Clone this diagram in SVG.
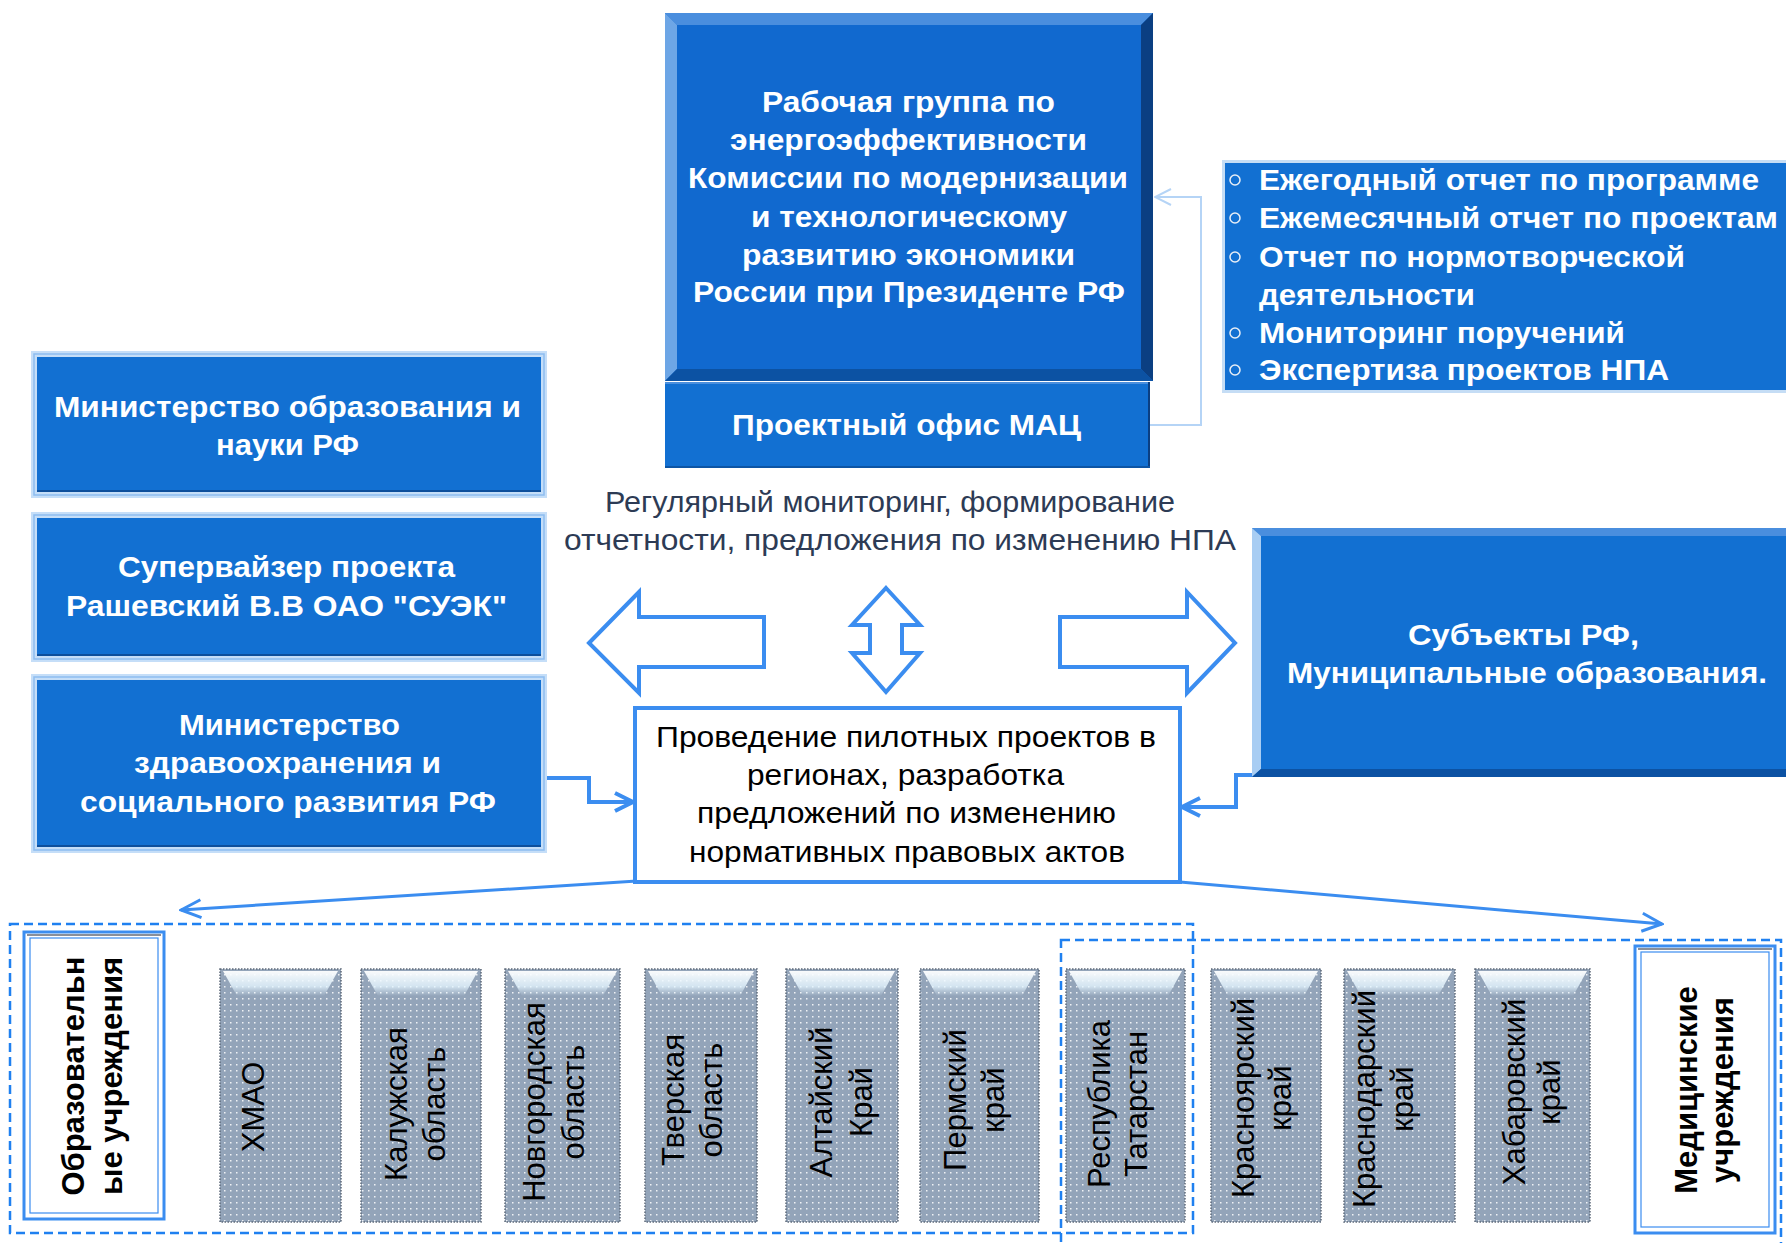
<svg xmlns="http://www.w3.org/2000/svg" width="1786" height="1243" viewBox="0 0 1786 1243">
<style>
text{font-family:"Liberation Sans",Arial,sans-serif}
.wb{font-weight:bold;font-size:29px;fill:#fff}
.wl{font-weight:bold;font-size:30px;fill:#fff}
.bk{font-size:30px;fill:#000}
.lbl{font-size:30px;fill:#2d3b55}
.rot{font-size:31px;fill:#000;text-anchor:middle}
.rotb{font-weight:bold}
.face{fill:#1270d2}
.bigarrow{fill:#fff;stroke:#3b8df0;stroke-width:4}
.conn{fill:none;stroke:#3b8df0;stroke-width:4}
.slant{fill:none;stroke:#3b8df0;stroke-width:3}
.light{fill:none;stroke:#b5d4f6;stroke-width:2}
.dash{fill:none;stroke:#1f80f0;stroke-width:2.5;stroke-dasharray:9 5}
.pill{fill:url(#dots);stroke:#5f6a7a;stroke-width:1.5;stroke-dasharray:1.5 1.5}
.hl{fill:url(#gl)}
.frame{fill:#fff;stroke:#3b8df0;stroke-width:3}
.frame2{fill:none;stroke:#3b8df0;stroke-width:1.2}
</style>
<defs>
<marker id="chev" viewBox="0 0 22 22" refX="20" refY="11" markerWidth="22" markerHeight="22" markerUnits="userSpaceOnUse" orient="auto"><path d="M2,2 L20,11 L2,20" fill="none" stroke="#3b8df0" stroke-width="4"/></marker>
<marker id="chev3" viewBox="0 0 24 22" refX="22" refY="11" markerWidth="24" markerHeight="22" markerUnits="userSpaceOnUse" orient="auto"><path d="M2,2 L22,11 L2,20" fill="none" stroke="#3b8df0" stroke-width="3"/></marker>
<marker id="chevL" viewBox="0 0 18 18" refX="17" refY="9" markerWidth="18" markerHeight="18" markerUnits="userSpaceOnUse" orient="auto"><path d="M1,1 L17,9 L1,17" fill="none" stroke="#b5d4f6" stroke-width="2"/></marker>
<pattern id="dots" width="6" height="6" patternUnits="userSpaceOnUse"><rect width="6" height="6" fill="#93a4b9"/><rect x="2" y="2" width="1.5" height="1.5" fill="#fff" opacity="0.85"/></pattern>
<linearGradient id="gl" x1="0" y1="0" x2="0" y2="1"><stop offset="0" stop-color="#ffffff" stop-opacity="0.95"/><stop offset="0.6" stop-color="#e4f5ff" stop-opacity="0.8"/><stop offset="1" stop-color="#e4f5ff" stop-opacity="0"/></linearGradient>
</defs>
<rect width="1786" height="1243" fill="#fff"/>

<!-- dashed group frames -->
<g id="groups">
<rect class="dash" x="10" y="924" width="1183" height="309"/>
<rect class="dash" x="1061" y="940" width="720" height="320"/>
</g>

<g id="node-workgroup">
<rect x="665" y="13" width="488" height="368" fill="#1169cf"/>
<polygon points="665,13 1153,13 1141,25 677,25" fill="#4a8ede"/>
<polygon points="665,13 677,25 677,369 665,381" fill="#6da6e6"/>
<polygon points="1153,13 1153,381 1141,369 1141,25" fill="#0b3f82"/>
<polygon points="665,381 677,369 1141,369 1153,381" fill="#0c52a3"/>
<text class="wb" x="762" y="112" textLength="293" lengthAdjust="spacingAndGlyphs">Рабочая группа по</text>
<text class="wb" x="730" y="150" textLength="357" lengthAdjust="spacingAndGlyphs">энергоэффективности</text>
<text class="wb" x="688" y="188" textLength="440" lengthAdjust="spacingAndGlyphs">Комиссии по модернизации</text>
<text class="wb" x="751" y="227" textLength="316" lengthAdjust="spacingAndGlyphs">и технологическому</text>
<text class="wb" x="742" y="265" textLength="333" lengthAdjust="spacingAndGlyphs">развитию экономики</text>
<text class="wb" x="693" y="302" textLength="432" lengthAdjust="spacingAndGlyphs">России при Президенте РФ</text>
</g>

<g id="node-office">
<rect x="665" y="382" width="485" height="86" class="face"/>
<line x1="665" y1="383" x2="1150" y2="383" stroke="#4a8fde" stroke-width="2"/>
<line x1="1149" y1="382" x2="1149" y2="468" stroke="#0b3f82" stroke-width="2"/>
<line x1="665" y1="467" x2="1150" y2="467" stroke="#0d55a5" stroke-width="2"/>
<text class="wb" x="732" y="435" textLength="349" lengthAdjust="spacingAndGlyphs">Проектный офис МАЦ</text>
</g>

<g id="node-reports">
<rect x="1222" y="160" width="570" height="233" fill="#c5ddf5"/>
<rect x="1225" y="163" width="570" height="227" class="face"/>
<g fill="none" stroke="#e8eef6" stroke-width="1.5">
<circle cx="1235" cy="180" r="5"/>
<circle cx="1235" cy="218" r="5"/>
<circle cx="1235" cy="257" r="5"/>
<circle cx="1235" cy="333" r="5"/>
<circle cx="1235" cy="370" r="5"/>
</g>
<text class="wb" x="1259" y="190" textLength="500" lengthAdjust="spacingAndGlyphs">Ежегодный отчет по программе</text>
<text class="wb" x="1259" y="228" textLength="519" lengthAdjust="spacingAndGlyphs">Ежемесячный отчет по проектам</text>
<text class="wb" x="1259" y="267" textLength="426" lengthAdjust="spacingAndGlyphs">Отчет по нормотворческой</text>
<text class="wb" x="1259" y="305" textLength="216" lengthAdjust="spacingAndGlyphs">деятельности</text>
<text class="wb" x="1259" y="343" textLength="366" lengthAdjust="spacingAndGlyphs">Мониторинг поручений</text>
<text class="wb" x="1259" y="380" textLength="410" lengthAdjust="spacingAndGlyphs">Экспертиза проектов НПА</text>
</g>

<g id="node-minobr">
<rect x="31" y="351" width="516" height="147" fill="#c5def8"/>
<rect x="34" y="354" width="510" height="141" fill="none" stroke="#8dbdf0" stroke-width="1.5"/>
<rect x="37" y="357" width="504" height="135" class="face"/>
<line x1="37" y1="491" x2="541" y2="491" stroke="#0d4f9c" stroke-width="2"/>
<text class="wl" x="54" y="417" textLength="467" lengthAdjust="spacingAndGlyphs">Министерство образования и</text>
<text class="wl" x="216" y="455" textLength="143" lengthAdjust="spacingAndGlyphs">науки РФ</text>
</g>

<g id="node-supervisor">
<rect x="31" y="512" width="516" height="150" fill="#c5def8"/>
<rect x="34" y="515" width="510" height="144" fill="none" stroke="#8dbdf0" stroke-width="1.5"/>
<rect x="37" y="518" width="504" height="138" class="face"/>
<line x1="37" y1="655" x2="541" y2="655" stroke="#0d4f9c" stroke-width="2"/>
<text class="wl" x="118" y="577" textLength="337" lengthAdjust="spacingAndGlyphs">Супервайзер проекта</text>
<text class="wl" x="66" y="616" textLength="441" lengthAdjust="spacingAndGlyphs">Рашевский В.В ОАО "СУЭК"</text>
</g>

<g id="node-minzdrav">
<rect x="31" y="674" width="516" height="179" fill="#c5def8"/>
<rect x="34" y="677" width="510" height="173" fill="none" stroke="#8dbdf0" stroke-width="1.5"/>
<rect x="37" y="680" width="504" height="167" class="face"/>
<line x1="37" y1="846" x2="541" y2="846" stroke="#0d4f9c" stroke-width="2"/>
<text class="wl" x="179" y="735" textLength="221" lengthAdjust="spacingAndGlyphs">Министерство</text>
<text class="wl" x="134" y="773" textLength="307" lengthAdjust="spacingAndGlyphs">здравоохранения и</text>
<text class="wl" x="80" y="812" textLength="416" lengthAdjust="spacingAndGlyphs">социального развития РФ</text>
</g>

<g id="node-subjects">
<rect x="1252" y="528" width="540" height="249" fill="#1270d2"/>
<polygon points="1252,528 1792,528 1792,536 1261,536" fill="#4a8ede"/>
<polygon points="1252,528 1261,536 1261,769 1252,777" fill="#a8cdf3"/>
<polygon points="1252,777 1261,769 1792,769 1792,777" fill="#0c52a3"/>
<text class="wb" x="1408" y="645" textLength="231" lengthAdjust="spacingAndGlyphs">Субъекты  РФ,</text>
<text class="wb" x="1287" y="683" textLength="480" lengthAdjust="spacingAndGlyphs">Муниципальные образования.</text>
</g>

<g id="label-monitoring">
<text class="lbl" x="605" y="512" textLength="570" lengthAdjust="spacingAndGlyphs">Регулярный мониторинг, формирование</text>
<text class="lbl" x="564" y="550" textLength="672" lengthAdjust="spacingAndGlyphs">отчетности, предложения по изменению НПА</text>
</g>

<g id="node-pilot">
<rect x="635" y="708" width="545" height="174" fill="#fff" stroke="#3b8df0" stroke-width="4"/>
<text class="bk" x="656" y="747" textLength="500" lengthAdjust="spacingAndGlyphs">Проведение пилотных проектов в</text>
<text class="bk" x="747" y="785" textLength="317" lengthAdjust="spacingAndGlyphs">регионах, разработка</text>
<text class="bk" x="697" y="823" textLength="419" lengthAdjust="spacingAndGlyphs">предложений по изменению</text>
<text class="bk" x="689" y="862" textLength="436" lengthAdjust="spacingAndGlyphs">нормативных правовых актов</text>
</g>

<g id="node-edu">
<rect class="frame" x="24" y="932" width="140" height="287"/>
<rect class="frame2" x="30" y="938" width="128" height="275"/>
<line x1="27" y1="935" x2="161" y2="935" stroke="#8a8f99" stroke-width="2"/>
<text class="rot rotb" transform="translate(84,1076) rotate(-90)">Образовательн</text>
<text class="rot rotb" transform="translate(122,1076) rotate(-90)">ые учреждения</text>
</g>

<g id="node-med">
<rect class="frame" x="1635" y="946" width="140" height="287"/>
<rect class="frame2" x="1641" y="952" width="128" height="275"/>
<line x1="1638" y1="949" x2="1772" y2="949" stroke="#8a8f99" stroke-width="2"/>
<text class="rot rotb" transform="translate(1697,1090) rotate(-90)">Медицинские</text>
<text class="rot rotb" transform="translate(1733,1090) rotate(-90)">учреждения</text>
</g>

<g id="region-hmao">
<rect class="pill" x="220" y="969" width="121" height="253"/>
<polygon class="hl" points="223,971 338,971 324,996 237,996"/>
<text class="rot" transform="translate(264,1107) rotate(-90)">ХМАО</text>
</g>
<g id="region-kaluga">
<rect class="pill" x="361" y="969" width="120" height="253"/>
<polygon class="hl" points="364,971 478,971 464,996 378,996"/>
<text class="rot" transform="translate(407,1104) rotate(-90)">Калужская</text>
<text class="rot" transform="translate(445,1104) rotate(-90)">область</text>
</g>
<g id="region-novgorod">
<rect class="pill" x="505" y="969" width="115" height="253"/>
<polygon class="hl" points="508,971 617,971 603,996 522,996"/>
<text class="rot" transform="translate(545,1102) rotate(-90)">Новгородская</text>
<text class="rot" transform="translate(584,1102) rotate(-90)">область</text>
</g>
<g id="region-tver">
<rect class="pill" x="645" y="969" width="112" height="253"/>
<polygon class="hl" points="648,971 754,971 740,996 662,996"/>
<text class="rot" transform="translate(684,1100) rotate(-90)">Тверская</text>
<text class="rot" transform="translate(722,1100) rotate(-90)">область</text>
</g>
<g id="region-altai">
<rect class="pill" x="786" y="969" width="112" height="253"/>
<polygon class="hl" points="789,971 895,971 881,996 803,996"/>
<text class="rot" transform="translate(832,1102) rotate(-90)">Алтайский</text>
<text class="rot" transform="translate(872,1102) rotate(-90)">Край</text>
</g>
<g id="region-perm">
<rect class="pill" x="920" y="969" width="119" height="253"/>
<polygon class="hl" points="923,971 1036,971 1022,996 937,996"/>
<text class="rot" transform="translate(966,1100) rotate(-90)">Пермский</text>
<text class="rot" transform="translate(1004,1100) rotate(-90)">край</text>
</g>
<g id="region-tatarstan">
<rect class="pill" x="1066" y="969" width="119" height="253"/>
<polygon class="hl" points="1069,971 1182,971 1168,996 1083,996"/>
<text class="rot" transform="translate(1110,1104) rotate(-90)">Республика</text>
<text class="rot" transform="translate(1147,1104) rotate(-90)">Татарстан</text>
</g>
<g id="region-krasnoyarsk">
<rect class="pill" x="1211" y="969" width="110" height="253"/>
<polygon class="hl" points="1214,971 1318,971 1304,996 1228,996"/>
<text class="rot" transform="translate(1254,1098) rotate(-90)">Красноярский</text>
<text class="rot" transform="translate(1291,1098) rotate(-90)">край</text>
</g>
<g id="region-krasnodar">
<rect class="pill" x="1344" y="969" width="111" height="253"/>
<polygon class="hl" points="1347,971 1452,971 1438,996 1361,996"/>
<text class="rot" transform="translate(1375,1099) rotate(-90)">Краснодарский</text>
<text class="rot" transform="translate(1413,1099) rotate(-90)">край</text>
</g>
<g id="region-khabarovsk">
<rect class="pill" x="1475" y="969" width="115" height="253"/>
<polygon class="hl" points="1478,971 1587,971 1573,996 1492,996"/>
<text class="rot" transform="translate(1525,1092) rotate(-90)">Хабаровский</text>
<text class="rot" transform="translate(1560,1092) rotate(-90)">край</text>
</g>

<g id="connectors">
<polygon class="bigarrow" points="589,643 639,592 639,617 764,617 764,667 639,667 639,693"/>
<polygon class="bigarrow" points="1060,617 1187,617 1187,592 1235,643 1187,693 1187,667 1060,667"/>
<polygon class="bigarrow" points="886,588 920,625 902,625 902,653 920,653 886,692 852,653 870,653 870,625 852,625"/>
<path class="conn" d="M547,778 H589 V802 H633" marker-end="url(#chev)"/>
<path class="conn" d="M1252,775 H1236 V807 H1182" marker-end="url(#chev)"/>
<path class="light" d="M1150,425 H1201 V197 H1155" marker-end="url(#chevL)"/>
<path class="slant" d="M637,881 L181,910" marker-end="url(#chev3)"/>
<path class="slant" d="M1180,882 L1662,924" marker-end="url(#chev3)"/>
</g>
</svg>
